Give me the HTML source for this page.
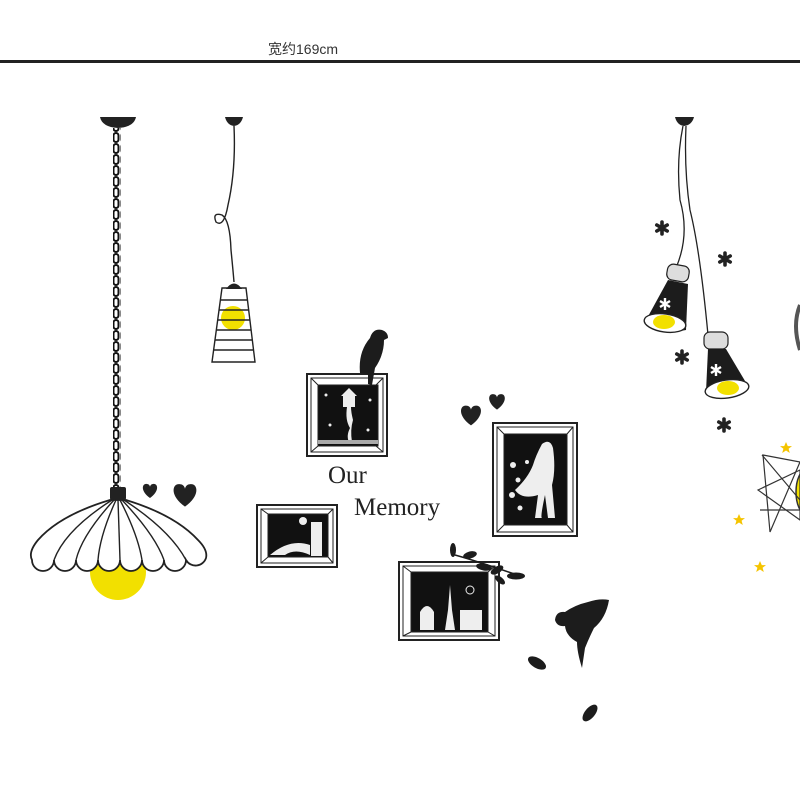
<!DOCTYPE html>
<html><head><meta charset="utf-8"><style>
html,body{margin:0;padding:0;background:#fff;}
svg{display:block}
</style></head><body>
<svg width="800" height="800" viewBox="0 0 800 800" xmlns="http://www.w3.org/2000/svg">
<defs>
<pattern id="chain" width="8" height="11" patternUnits="userSpaceOnUse">
<rect x="1.5" y="1" width="5" height="9" rx="2.5" fill="none" stroke="#111" stroke-width="2"/>
</pattern>
<g id="ast"><path d="M0,-6V6M-5.2,-3L5.2,3M-5.2,3L5.2,-3" stroke="#222" stroke-width="3.6" stroke-linecap="round"/></g>
<g id="heart"><path d="M0,6 C-10,-1 -8,-9 -3,-8 C-1,-8 0,-6 0,-5 C0,-6 1,-8 3,-8 C8,-9 10,-1 0,6Z" fill="#222"/></g>
<g id="star"><path d="M0,-6 L1.8,-1.9 6,-1.9 2.6,0.8 3.8,5 0,2.5 -3.8,5 -2.6,0.8 -6,-1.9 -1.8,-1.9Z" fill="#f5c400"/></g>
</defs>

<!-- top -->
<text x="268" y="54" font-family="Liberation Sans, Noto Sans CJK SC, sans-serif" font-size="14" fill="#333">宽约169cm</text>
<rect x="0" y="60" width="800" height="3" fill="#222"/>

<!-- left chain lamp -->
<path d="M100,117 H136 Q134,127 118,128 Q102,127 100,117Z" fill="#222"/>
<rect x="113" y="128" width="8" height="360" fill="url(#chain)"/>
<rect x="110" y="487" width="16" height="13" rx="2" fill="#222"/>
<circle cx="118" cy="572" r="28" fill="#f2e000"/>
<path d="M110,500 Q60,515 38,540 Q28,552 32,560 A11,11 0 0 0 54,560 A11,11 0 0 0 76,560 A11,11 0 0 0 98,560 A11,11 0 0 0 120,560 A11,11 0 0 0 142,560 A11,11 0 0 0 164,560 A11,11 0 0 0 186,560 A11,11 0 0 0 206,558 Q208,550 198,540 Q175,515 126,500Z" fill="#fff" stroke="#222" stroke-width="1.8"/>
<g fill="none" stroke="#222" stroke-width="1.4">
<path d="M112,500 Q65,530 54,560"/><path d="M114,500 Q82,535 76,560"/><path d="M116,500 Q100,535 98,560"/>
<path d="M118,500 Q119,530 120,560"/><path d="M120,500 Q138,535 142,560"/><path d="M122,500 Q155,535 164,560"/><path d="M124,500 Q170,530 186,560"/>
</g>

<!-- cage lamp -->
<path d="M225,117 H243 Q241,125 234,126 Q227,125 225,117Z" fill="#222"/>
<path d="M234,126 Q236,170 228,205 Q224,228 216,222 Q212,212 222,215 Q230,220 231,250 Q233,270 234,282" fill="none" stroke="#222" stroke-width="1.4"/>
<path d="M226,289 Q234,278 242,289Z" fill="#222"/>
<circle cx="233" cy="318" r="12" fill="#f2e000"/>
<g fill="none" stroke="#222" stroke-width="1.4">
<path d="M222,288 H246 L255,362 H212Z"/>
<path d="M220,300H248M219,310H249M218,320H250M216,330H251M215,340H252M214,350H253"/>
</g>

<!-- right pendant lamps -->
<path d="M675,117 H694 Q692,125 684,126 Q677,125 675,117Z" fill="#222"/>
<path d="M683,126 Q676,160 680,200 Q690,235 676,268" fill="none" stroke="#222" stroke-width="1.3"/>
<path d="M686,126 Q684,170 690,210 Q700,250 708,335" fill="none" stroke="#222" stroke-width="1.3"/>
<rect x="667" y="265" width="22" height="16" rx="6" fill="#ddd" stroke="#222" stroke-width="1.2" transform="rotate(10 678 273)"/>
<path d="M668,280 L688,284 L686,330 Q665,335 645,322Z" fill="#1c1c1c"/>
<ellipse cx="665" cy="323" rx="21" ry="9" fill="#fff" stroke="#222" stroke-width="1.4" transform="rotate(8 665 323)"/>
<ellipse cx="664" cy="322" rx="11" ry="7" fill="#f2e000"/>
<path d="M665,298V310M660,301L670,307M660,307L670,301" stroke="#fff" stroke-width="2.4"/>
<rect x="704" y="332" width="24" height="17" rx="6" fill="#ddd" stroke="#222" stroke-width="1.2"/>
<path d="M708,349 L726,349 L748,386 Q730,395 706,392Z" fill="#1c1c1c"/>
<ellipse cx="727" cy="389" rx="22" ry="9" fill="#fff" stroke="#222" stroke-width="1.4" transform="rotate(-8 727 389)"/>
<ellipse cx="728" cy="388" rx="11" ry="7" fill="#f2e000"/>
<path d="M716,364V376M711,367L721,373M711,373L721,367" stroke="#fff" stroke-width="2.4"/>
<use href="#ast" x="662" y="228"/>
<use href="#ast" x="725" y="259"/>
<use href="#ast" x="682" y="357"/>
<use href="#ast" x="724" y="425"/>

<!-- right edge -->
<path d="M800,305 Q792,325 800,350" fill="none" stroke="#555" stroke-width="4"/>
<ellipse cx="806" cy="492" rx="10" ry="22" fill="#f2e000" stroke="#333" stroke-width="1.5"/>
<g fill="none" stroke="#333" stroke-width="1.2">
<path d="M763,455 L800,462 L770,532 Z"/>
<path d="M758,490 L800,470 L800,520 Z"/>
<path d="M762,455 L800,500 M760,510 L800,510"/>
</g>
<use href="#star" x="786" y="448"/>
<use href="#star" x="739" y="520"/>
<use href="#star" x="760" y="567"/>

<!-- hearts -->
<use href="#heart" x="150" y="492"/>
<g transform="translate(185,497) scale(1.6)"><use href="#heart"/></g>
<g transform="translate(471,417) scale(1.4)"><use href="#heart"/></g>
<g transform="translate(497,403) scale(1.1)"><use href="#heart"/></g>

<!-- frames -->
<g stroke="#222" fill="#fff">
<rect x="307" y="374" width="80" height="82" stroke-width="2"/>
<rect x="311" y="378" width="72" height="74" stroke-width="1"/>
<rect x="318" y="385" width="60" height="61" fill="#111"/>
<path d="M311,378L318,385M383,378L376,385M311,452L318,446M383,452L376,446" stroke-width="1"/>
<rect x="257" y="505" width="80" height="62" stroke-width="2"/>
<rect x="261" y="509" width="72" height="54" stroke-width="1"/>
<rect x="268" y="514" width="60" height="43" fill="#111"/>
<path d="M261,509L268,514M333,509L328,514M261,563L268,557M333,563L328,557" stroke-width="1"/>
<rect x="493" y="423" width="84" height="113" stroke-width="2"/>
<rect x="497" y="427" width="76" height="105" stroke-width="1"/>
<rect x="504" y="434" width="63" height="91" fill="#111"/>
<path d="M497,427L504,434M573,427L567,434M497,532L504,525M573,532L567,525" stroke-width="1"/>
<rect x="399" y="562" width="100" height="78" stroke-width="2"/>
<rect x="403" y="566" width="92" height="70" stroke-width="1"/>
<rect x="411" y="572" width="77" height="60" fill="#111"/>
<path d="M403,566L411,572M495,566L488,572M403,636L411,632M495,636L488,632" stroke-width="1"/>
</g>
<g fill="#eee">
<rect x="343" y="395" width="12" height="12"/><path d="M341,396 L349,388 L357,396Z"/>
<path d="M347,407 Q345,420 350,428 Q346,436 349,442 H352 Q350,430 353,420 Q351,412 351,407Z"/>
<circle cx="326" cy="395" r="1.5"/><circle cx="370" cy="400" r="1.5"/><circle cx="330" cy="425" r="1.5"/><circle cx="368" cy="430" r="1.5"/>
<rect x="318" y="440" width="60" height="4" fill="#aaa"/>
<path d="M270,555 Q290,538 310,545 L310,555 Q295,548 285,555Z"/>
<rect x="311" y="522" width="11" height="34"/><circle cx="303" cy="521" r="4"/>
<path d="M542,444 Q550,438 553,448 Q556,470 552,485 L555,518 H548 L545,495 Q540,518 542,518 H535 L538,495 Q522,500 515,490 Q528,478 533,465 Q536,455 542,444Z"/>
<circle cx="513" cy="465" r="3"/><circle cx="518" cy="480" r="2.5"/><circle cx="512" cy="495" r="3"/><circle cx="520" cy="508" r="2.5"/><circle cx="527" cy="462" r="2"/>
<path d="M445,630 L448,610 L450,585 L452,610 L455,630 Z"/>
<path d="M420,630 V612 Q427,600 434,612 V630Z"/>
<rect x="460" y="610" width="22" height="20"/>
<circle cx="470" cy="590" r="4" fill="none" stroke="#eee"/>
</g>

<text x="328" y="483" font-family="Liberation Serif, serif" font-size="25" fill="#222">Our</text>
<text x="354" y="515" font-family="Liberation Serif, serif" font-size="25" fill="#222">Memory</text>

<!-- birds -->
<path d="M360,373 Q358,352 370,338 Q373,328 382,330 Q388,332 388,338 L384,340 Q384,355 375,368 L372,385 L368,384 L368,374Z" fill="#1c1c1c"/>
<path d="M555,620 Q556,611 565,612 Q575,605 588,602 Q600,598 609,600 Q606,618 594,628 Q589,638 585,648 L582,668 Q577,652 577,642 Q566,636 565,626 Q557,627 555,620Z" fill="#1c1c1c"/>
<ellipse cx="537" cy="663" rx="10" ry="5" transform="rotate(30 537 663)" fill="#1c1c1c"/>
<ellipse cx="590" cy="713" rx="10" ry="5" transform="rotate(-50 590 713)" fill="#1c1c1c"/>
<g fill="#1c1c1c">
<ellipse cx="453" cy="550" rx="3" ry="7"/>
<ellipse cx="470" cy="555" rx="7" ry="3.5" transform="rotate(-15 470 555)"/>
<ellipse cx="484" cy="567" rx="8" ry="3.5" transform="rotate(10 484 567)"/>
<ellipse cx="497" cy="570" rx="7" ry="3.5" transform="rotate(-30 497 570)"/>
<ellipse cx="500" cy="580" rx="6" ry="3" transform="rotate(40 500 580)"/>
<ellipse cx="516" cy="576" rx="9" ry="3.5"/>
<path d="M455,555 Q480,562 520,576" stroke="#1c1c1c" stroke-width="1.5" fill="none"/>
</g>
</svg>
</body></html>
